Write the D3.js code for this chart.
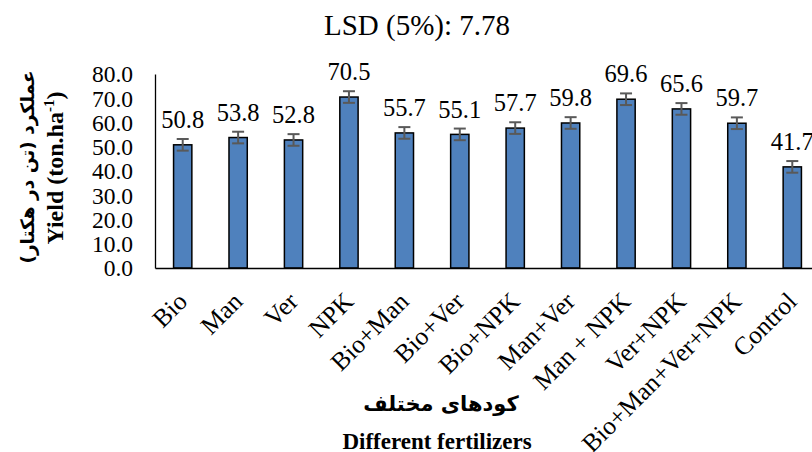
<!DOCTYPE html>
<html><head><meta charset="utf-8">
<script src="https://cdn.jsdelivr.net/npm/d3@7"></script>
<style>body{margin:0;background:#fff}svg{display:block}</style>
</head><body><svg id="c" width="812" height="452"></svg>
<script>
const categories = ["Bio","Man","Ver","NPK","Bio+Man","Bio+Ver","Bio+NPK","Man+Ver","Man + NPK","Ver+NPK","Bio+Man+Ver+NPK","Control"];
const values = [50.8,53.8,52.8,70.5,55.7,55.1,57.7,59.8,69.6,65.6,59.7,41.7];
const errors = [2.4,2.4,2.4,2.4,2.4,2.4,2.4,2.4,2.4,2.4,2.4,2.4];
const yTicks = [0,10,20,30,40,50,60,70,80];
const title = "LSD (5%): 7.78";

const svg = d3.select("#c");
const serif = "'Liberation Serif','Times New Roman',serif";
const mL = 155, mT = 74, mB = 268, mR = 820;
const x = d3.scaleBand().domain(categories).range([mL, mR]).paddingInner(0.67).paddingOuter(0.335);
const y = d3.scaleLinear().domain([0,80]).range([mB, mT]);

svg.append("text").attr("x",417).attr("y",35).attr("text-anchor","middle")
  .style("font-family",serif).style("font-size","29px").text(title);

// y axis
const ya = svg.append("g").attr("transform",`translate(${mL},0)`)
  .call(d3.axisLeft(y).tickValues(yTicks).tickFormat(d3.format(".1f")).tickSize(0).tickPadding(22));
ya.select(".domain").attr("stroke","#000").attr("stroke-width",1.3);
ya.selectAll("text").style("font-family",serif).style("font-size","23.5px").attr("fill","#000").attr("dy","0.33em");

// bars
svg.append("g").selectAll("rect").data(values).join("rect")
  .attr("x",(d,i)=>x(categories[i])).attr("width",x.bandwidth())
  .attr("y",d=>y(d)).attr("height",d=>y(0)-y(d))
  .attr("fill","#4F81BD").attr("stroke","#000").attr("stroke-width",1.5);

// error bars
const eg = svg.append("g").attr("stroke","#595959").attr("stroke-width",2);
values.forEach((v,i)=>{
  const cx = x(categories[i]) + x.bandwidth()/2;
  eg.append("line").attr("x1",cx).attr("x2",cx).attr("y1",y(v+errors[i])).attr("y2",y(v-errors[i]));
  eg.append("line").attr("x1",cx-6).attr("x2",cx+6).attr("y1",y(v+errors[i])).attr("y2",y(v+errors[i]));
  eg.append("line").attr("x1",cx-6).attr("x2",cx+6).attr("y1",y(v-errors[i])).attr("y2",y(v-errors[i]));
});

// labels
svg.append("g").selectAll("text").data(values).join("text")
  .attr("x",(d,i)=>x(categories[i])+x.bandwidth()/2).attr("y",(d,i)=>y(d+errors[i])-11)
  .attr("text-anchor","middle").style("font-family",serif).style("font-size","24.5px")
  .text(d=>d3.format(".1f")(d));

// x axis
const xa = svg.append("g").attr("transform",`translate(0,${mB})`)
  .call(d3.axisBottom(x).tickSize(0).tickPadding(0));
xa.select(".domain").attr("stroke","#000").attr("stroke-width",1.3);
xa.selectAll("text").attr("text-anchor","end").attr("dy",0).attr("y",0)
  .attr("transform","translate(6,35) rotate(-45)")
  .style("font-family",serif).style("font-size","25.5px").attr("fill","#000");

// axis titles
svg.append("text").attr("transform","translate(34,167) rotate(-90)").attr("text-anchor","middle")
  .style("font-family","'DejaVu Sans',sans-serif").style("font-weight","bold").style("font-size","18.5px")
  .attr("direction","rtl").text("عملکرد (تن در هکتار)");
const yt = svg.append("text").attr("transform","translate(63,168) rotate(-90)").attr("text-anchor","middle")
  .style("font-family",serif).style("font-weight","bold").style("font-size","24px");
yt.append("tspan").text("Yield (ton.ha");
yt.append("tspan").attr("dy","-9").style("font-size","15px").text("-1");
yt.append("tspan").attr("dy","9").text(")");

svg.append("text").attr("x",441).attr("y",411).attr("text-anchor","middle")
  .style("font-family","'DejaVu Sans',sans-serif").style("font-weight","bold").style("font-size","21px")
  .attr("direction","rtl").text("کودهای مختلف");
svg.append("text").attr("x",437).attr("y",449).attr("text-anchor","middle")
  .style("font-family",serif).style("font-weight","bold").style("font-size","23px")
  .text("Different fertilizers");
</script></body></html>
